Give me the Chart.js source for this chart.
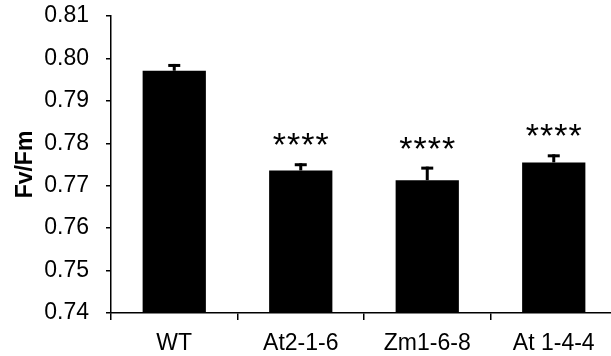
<!DOCTYPE html>
<html>
<head>
<meta charset="utf-8">
<script src="https://cdn.jsdelivr.net/npm/chart.js@4/dist/chart.umd.min.js"></script>
<style>
  html, body { margin: 0; padding: 0; background: #fff; }
  #wrap { width: 611px; height: 356px; overflow: hidden; position: relative; }
  canvas { display: block; }
</style>
</head>
<body>
<div id="wrap"><canvas id="c" width="620" height="356"></canvas></div>
<script>
// ---- data ----
const categories = ["WT", "At2-1-6", "Zm1-6-8", "At 1-4-4"];
const means = [0.7971, 0.7736, 0.7713, 0.7755];
const errors = [0.0016, 0.0017, 0.0032, 0.0019];
const significance = ["", "****", "****", "****"];
const yTicks = [0.74, 0.75, 0.76, 0.77, 0.78, 0.79, 0.80, 0.81];
const yTitle = "Fv/Fm";

const FONT = "'Liberation Sans', Arial, Helvetica, sans-serif";

const errorBarPlugin = {
  id: 'errorBars',
  afterDatasetsDraw(chart) {
    const meta = chart.getDatasetMeta(0);
    const ys = chart.scales.y;
    const ctx = chart.ctx;
    ctx.save();
    ctx.fillStyle = '#000';
    meta.data.forEach((bar, i) => {
      const x = bar.x;
      const yBase = bar.y;
      const yTop = ys.getPixelForValue(means[i] + errors[i]);
      // stem
      ctx.fillRect(x - 1.5, yTop, 3, yBase - yTop);
      // cap
      ctx.fillRect(x - 6, yTop, 12, 3);
      // significance stars
      if (significance[i]) {
        ctx.font = "34px " + FONT;
        ctx.textAlign = 'center';
        ctx.textBaseline = 'alphabetic';
        try { ctx.letterSpacing = '1px'; } catch (e) {}
        ctx.fillText(significance[i], x + 0.5, yTop - 7);
        try { ctx.letterSpacing = '0px'; } catch (e) {}
      }
    });
    ctx.restore();
  }
};

new Chart(document.getElementById('c'), {
  type: 'bar',
  data: {
    labels: categories,
    datasets: [{
      data: means,
      backgroundColor: '#000',
      borderWidth: 0,
      barPercentage: 1,
      categoryPercentage: 0.5
    }]
  },
  options: {
    responsive: false,
    animation: false,
    devicePixelRatio: 1,
    layout: { padding: { top: 16, right: 3, bottom: 0, left: 0 } },
    plugins: { legend: { display: false }, tooltip: { enabled: false } },
    scales: {
      x: {
        grid: { display: true, drawOnChartArea: false, drawTicks: true, tickLength: 7, color: '#000', lineWidth: 1.5, offset: true },
        border: { display: true, color: '#000', width: 1.5 },
        ticks: { color: '#000', font: { family: FONT, size: 23 }, padding: 10, maxRotation: 0, autoSkip: false },
        afterFit(scale) { scale.height = 43; scale.paddingLeft = 0; scale.paddingRight = 0; }
      },
      y: {
        min: 0.74,
        max: 0.81,
        afterBuildTicks(scale) { scale.ticks = yTicks.map(v => ({ value: v })); },
        grid: { display: true, drawOnChartArea: false, drawTicks: true, tickLength: 5, color: '#000', lineWidth: 1.5 },
        border: { display: true, color: '#000', width: 1.5 },
        ticks: { color: '#000', font: { family: FONT, size: 23 }, padding: 17, callback: v => Number(v).toFixed(2) },
        title: { display: true, text: yTitle, color: '#000', font: { family: FONT, size: 23, weight: 'bold', lineHeight: 1.2 }, padding: { top: 12, bottom: 0 } },
        afterFit(scale) { scale.width = 111; scale.paddingTop = 0; scale.paddingBottom = 0; }
      }
    }
  },
  plugins: [errorBarPlugin]
});
</script>
</body>
</html>
